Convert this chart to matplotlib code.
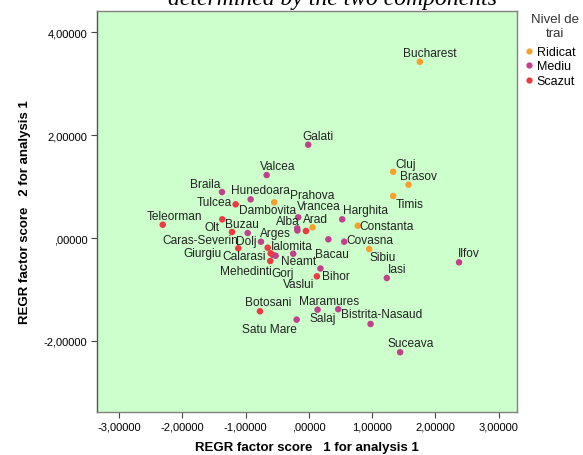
import matplotlib
matplotlib.use("Agg")
import matplotlib.pyplot as plt
from matplotlib.ticker import FuncFormatter
from matplotlib.lines import Line2D

plt.rcParams['font.family'] = ['Liberation Sans', 'DejaVu Sans']

# county, factor score 1, factor score 2, level
names = ["Bucharest", "Galati", "Valcea", "Braila", "Hunedoara", "Prahova",
         "Tulcea", "Teleorman", "Olt", "Buzau", "Arges", "Vrancea", "Alba",
         "Dambovita", "Mures", "Arad", "Harghita", "Constanta", "Bacau",
         "Covasna", "Sibiu", "Ilfov", "Iasi", "Dolj", "Giurgiu", "Ialomita",
         "Calarasi", "Mehedinti", "Gorj", "Caras-Severin", "Neamt", "Bihor",
         "Vaslui", "Botosani", "Maramures", "Salaj", "Satu Mare",
         "Bistrita-Nasaud", "Suceava", "Cluj", "Brasov", "Timis"]
score1 = [1.754, -0.011, -0.668, -1.374, -0.921, -0.548,
          -1.158, -2.311, -1.370, -1.216, -0.968, -0.169, -0.185,
          -0.182, -0.047, 0.058, 0.526, 0.774, 0.308,
          0.558, 0.953, 2.374, 1.232, -0.758, -1.117, -0.652,
          -0.605, -0.611, -0.526, -0.569, -0.248, 0.182,
          0.126, -0.774, 0.137, 0.463, -0.194,
          0.975, 1.442, 1.332, 1.575, 1.332]
score2 = [3.423, 1.812, 1.223, 0.893, 0.751, 0.693,
          0.654, 0.258, 0.363, 0.117, 0.097, 0.402, 0.188,
          0.146, 0.136, 0.208, 0.363, 0.239, -0.025,
          -0.072, -0.214, -0.472, -0.777, -0.072, -0.200, -0.188,
          -0.297, -0.447, -0.344, -0.330, -0.305, -0.592,
          -0.744, -1.423, -1.392, -1.384, -1.586,
          -1.670, -2.219, 1.287, 1.035, 0.816]
level = ["Ridicat", "Mediu", "Mediu", "Mediu", "Mediu", "Ridicat",
         "Scazut", "Scazut", "Scazut", "Scazut", "Mediu", "Mediu", "Mediu",
         "Mediu", "Scazut", "Ridicat", "Mediu", "Ridicat", "Mediu",
         "Mediu", "Ridicat", "Mediu", "Mediu", "Mediu", "Scazut", "Scazut",
         "Scazut", "Scazut", "Mediu", "Mediu", "Mediu", "Mediu",
         "Scazut", "Scazut", "Mediu", "Mediu", "Mediu",
         "Mediu", "Mediu", "Ridicat", "Ridicat", "Ridicat"]
levels = ["Ridicat", "Mediu", "Scazut"]
colors = {"Ridicat": "#F9A02C", "Mediu": "#C2418B", "Scazut": "#EF3A3F"}

# label placement (pixels, relative to point; None = hidden)
label_off = {
    "Bucharest": (10, 9), "Galati": (10, 9), "Valcea": (11, 9), "Braila": (-17, 8),
    "Hunedoara": (10, 9), "Prahova": (38, 7), "Tulcea": (-21, 2),
    "Teleorman": (12, 9), "Olt": (-10, -8), "Buzau": (10, 8), "Arges": (28, 0),
    "Vrancea": (21, 11), "Alba": (-9, 7), "Dambovita": (-30, 20), "Mures": None,
    "Arad": (3, 8), "Harghita": (23, 9), "Constanta": (29, 0), "Bacau": (4, -15),
    "Covasna": (26, 2), "Sibiu": (14, -8), "Ilfov": (10, 9), "Iasi": (10, 9),
    "Dolj": (-15, 1), "Giurgiu": (-36, -5), "Ialomita": (24, 2),
    "Calarasi": (-27, -3), "Mehedinti": (-24, -10), "Gorj": (7, -17),
    "Caras-Severin": (-73, 15), "Neamt": (5, -7), "Bihor": (15, -8),
    "Vaslui": (-18, -8), "Botosani": (8, 9), "Maramures": (11, 9),
    "Salaj": (-15, -9), "Satu Mare": (-27, -9), "Bistrita-Nasaud": (11, 10),
    "Suceava": (11, 9), "Cluj": (12, 8), "Brasov": (10, 9), "Timis": (16, -8),
}

fig = plt.figure(figsize=(5.83, 4.56), dpi=100)
ax = fig.add_axes([97 / 583, 1 - 413 / 456, 420 / 583, 401 / 456])
ax.set_facecolor("#CCFFCC")

for lv in levels:
    xs = [x for x, l in zip(score1, level) if l == lv]
    ys = [y for y, l in zip(score2, level) if l == lv]
    ax.scatter(xs, ys, s=22, color=colors[lv], edgecolors="none", zorder=3)

for n, x, y in zip(names, score1, score2):
    off = label_off.get(n)
    if off is None:
        continue
    ax.annotate(n, (x, y), xytext=off, textcoords="offset pixels",
                ha="center", va="center", fontsize=8.6, color="#222222", zorder=4)

ax.set_xlim(-3.35, 3.29)
ax.set_ylim(-3.38, 4.41)
ax.set_xticks([-3, -2, -1, 0, 1, 2, 3])
ax.set_yticks([-2, 0, 2, 4])


def fmt(v, pos):
    s = "%.5f" % v
    s = s.replace(".", ",")
    if s.startswith("0,"):
        s = s[1:]
    if s.startswith("-0,"):
        s = s[1:] if v != 0 else s[2:]
    return s


ax.xaxis.set_major_formatter(FuncFormatter(fmt))
ax.yaxis.set_major_formatter(FuncFormatter(fmt))
ax.tick_params(labelsize=8, length=4, width=0.8, color="#444444", pad=3)
for sp in ax.spines.values():
    sp.set_color("#808080")
    sp.set_linewidth(1.0)
ax.spines["left"].set_color("#555555")

ax.set_xlabel("REGR factor score   1 for analysis 1", fontsize=9.5,
              fontweight="bold", labelpad=7)
ax.set_ylabel("REGR factor score   2 for analysis 1", fontsize=9.5,
              fontweight="bold", labelpad=9)

fig.text(0.57, 1 - 5 / 456, "determined by the two components",
         family="Liberation Serif", style="italic", fontsize=17,
         ha="center", va="baseline")

# legend title drawn separately so it can sit centred above the entries
fig.text(555 / 583, 1 - 27 / 456, "Nivel de\ntrai", fontsize=9.5,
         color="#333333", ha="center", va="center", multialignment="center",
         linespacing=1.15)
handles = [Line2D([], [], marker="o", linestyle="", markersize=4.5,
                  markerfacecolor=colors[lv], markeredgecolor="none")
           for lv in levels]
fig.legend(handles, levels, loc="upper left",
           bbox_to_anchor=(521 / 583, 1 - 47 / 456), frameon=False,
           fontsize=9, handletextpad=0.05, handlelength=1.2,
           labelspacing=0.2, borderaxespad=0, borderpad=0)

fig.savefig("out.png", dpi=100)
